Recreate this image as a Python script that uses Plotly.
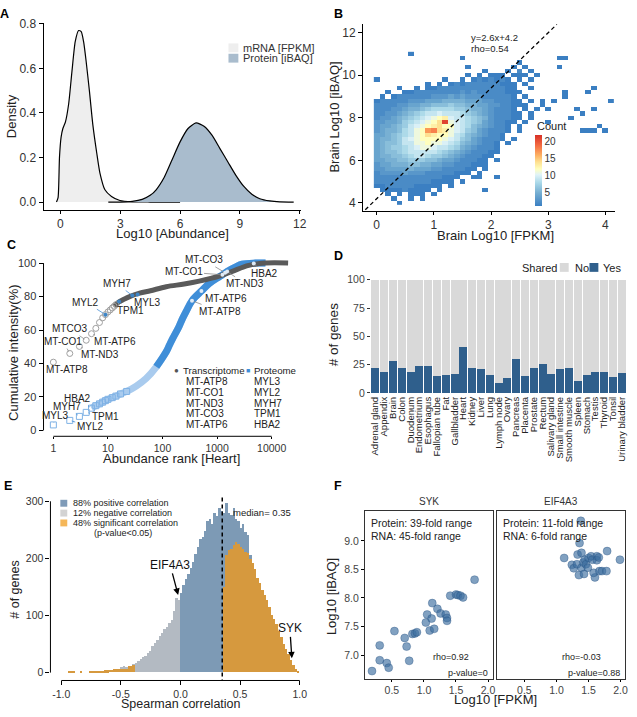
import math
import plotly.graph_objects as go

W, H = 637, 717
FONT = "Liberation Sans, Arial, Helvetica, sans-serif"

# ---------------- Panel A: density curves ----------------
a_mrna_x = [-0.2, -0.12, -0.05, 0.03, 0.12, 0.25, 0.41, 0.58, 0.74, 0.91, 1.04, 1.16, 1.29, 1.45, 1.62,
            1.82, 1.98, 2.23, 2.56, 2.98, 3.6, 4.5, 6.0]
a_mrna_y = [0.0, 0.02, 0.2, 0.29, 0.33, 0.36, 0.44, 0.59, 0.72, 0.77, 0.765, 0.72, 0.63, 0.50, 0.35,
            0.22, 0.13, 0.055, 0.025, 0.007, 0.001, 0.0, 0.0]
a_prot_x = [2.4, 3.0, 3.6, 4.1, 4.5, 4.8, 5.2, 5.6, 6.0, 6.4, 6.8, 7.2, 7.6, 8.0, 8.4, 8.8, 9.2, 9.6,
            10.0, 10.5, 11.0, 11.7]
a_prot_y = [0.0, 0.0, 0.003, 0.012, 0.03, 0.055, 0.11, 0.19, 0.27, 0.33, 0.355, 0.34, 0.30, 0.24, 0.18,
            0.12, 0.07, 0.035, 0.015, 0.005, 0.001, 0.0]
a_labels = ["mRNA [FPKM]", "Protein [iBAQ]"]

# ---------------- Panel B: 2D histogram counts (rows top y=11.0 -> bottom y=4.0, cols x=0.0..4.1) ----
b_code = ".123456789abcdefghijklm"
b_rows = [
    "......1..." ".........." ".........." ".........." "..",   # 11.0
    ".........." ".....1...." ".........." "..11......" "..",   # 10.8
    ".........." ".........." ".....1...." ".........." "..",   # 10.6
    ".........." "......1..." "....1.1..." "..1......." "..",   # 10.4
    ".........." ".........1" "...1.2.1.." ".........." "..",   # 10.2
    ".........." "......1.1." "111.111.1." ".........." "..",   # 10.0
    "1........." "..1..1.121" "2121.1.1.." ".........." "..",   # 9.8
    ".........1" ".1.1212222" "22111.1..." ".........." "..",   # 9.6
    "....1..1.1" "1222222222" "22211..1.." "........1." "..",   # 9.4
    "..1..11222" "2222232322" "222111...." "...1...1.." "..",   # 9.2
    ".1.1222222" "3334343332" "22221.1..." "...1......" "..",   # 9.0
    "1222223334" "4455554443" "322211.1.1" ".1........" ".1",   # 8.8
    "2222334455" "6667665544" "3322111..1" ".........." "..",   # 8.6
    "2223345567" "8888776554" "32221.1.1." "1....1..1." "..",   # 8.4
    "2233456789" "9a99987654" "322211.1.." "......1..." "..",   # 8.2
    "233456789a" "bcda998765" "322211.1.." "....1....." "..",   # 8.0
    "33445789ab" "celba98764" "32211.1..." "1........." "..",   # 7.8
    "3445679abc" "decca98654" "3221.1...." ".........1" "..",   # 7.6
    "3455689bch" "iedba97643" "2221.1...." "......111." "1.",   # 7.4
    "4456789bce" "dccb986543" "221......." ".........." "..",   # 7.2
    "455679abcc" "ccba976432" "221.1....." ".........." "..",   # 7.0
    "4566799bbc" "bba9865432" "21.1......" ".........." "..",   # 6.8
    "4567789abb" "a998754322" "21........" ".........." "..",   # 6.6
    "4566789999" "9876543222" "11........" ".........." "..",   # 6.4
    "4556678998" "7765432221" "1........." ".........." "..",   # 6.2
    "4455667776" "6544322211" ".1........" ".........." "..",   # 6.0
    "3445556655" "4433222111" ".........." ".........." "..",   # 5.8
    "3344445444" "33222211.1" ".........." ".........." "..",   # 5.6
    "2333343332" "2222111.1." ".........." ".........." "..",   # 5.4
    "2222222222" "22111..11." ".1........" ".........." "..",   # 5.2
    "2222222222" "1111.1...." ".........." ".........." "..",   # 5.0
    "1122222111" "11.1......" ".........." ".........." "..",   # 4.8
    ".111121111" ".1.......1" ".........." ".........." "..",   # 4.6
    "..1.1.111." "1........." ".........." ".........." "..",   # 4.4
    "...1..1.1." ".........." ".........." ".........." "..",   # 4.2
    "....1....." ".........." ".........." ".........." "..",   # 4.0
]
b_row_y = [11.0, 10.8, 10.6, 10.4, 10.2, 10.0, 9.8, 9.6, 9.4, 9.2, 9.0, 8.8, 8.6, 8.4, 8.2, 8.0, 7.8, 7.6,
           7.4, 7.2, 7.0, 6.8, 6.6, 6.4, 6.2, 6.0, 5.8, 5.6, 5.4, 5.2, 5.0, 4.8, 4.6, 4.4, 4.2, 4.0]
b_col_x = [round(0.1 * j, 1) for j in range(42)]
b_fit_slope, b_fit_intercept = 2.6, 4.2
b_fit_x = [-0.2, 3.15]

# ---------------- Panel C: cumulative intensity vs rank ----------------
c_tx_rank = [1, 2, 3, 4, 5, 6, 7, 8, 9, 10, 11, 12, 13, 14, 15, 20, 25, 38, 60, 117, 250, 470, 1090, 1900,
             3800, 7700, 20000]
c_tx_pct = [40.8, 46.0, 50.2, 53.9, 57.8, 61.0, 64.5, 67.3, 69.2, 70.8, 72.0, 73.2, 74.2, 75.2, 76.2, 78.5,
            80.0, 82.0, 83.5, 85.9, 87.5, 89.2, 92.2, 95.1, 98.6, 100, 100]
c_pr_rank = [1, 2, 3, 4, 5, 6, 7, 8, 9, 10, 12, 14, 17, 22, 33, 50, 77, 117, 134, 154, 200, 234, 270, 347,
             516, 716, 1000, 1250, 1530, 2200, 2880, 5000, 7700]
c_pr_pct = [3.3, 6.0, 8.4, 10.8, 13.3, 14.8, 15.9, 16.9, 17.8, 18.6, 19.6, 20.5, 21.8, 23.3, 26.5, 31.0,
            38.0, 47.0, 51.0, 55.0, 62.0, 67.0, 71.0, 77.5, 83.3, 87.8, 91.0, 93.0, 95.0, 97.7, 99.3, 100, 100]
# (gene, rank, pct, label x px, label y px, leader colour)
c_labels = [
    ("MT-ATP8", 1, 40.8, 67, 369, "#8c8c8c"),
    ("MT-CO1", 2, 46.0, 63, 341, "#8c8c8c"),
    ("MT-ND3", 3, 50.2, 100, 354, "#8c8c8c"),
    ("MTCO3", 4, 53.9, 69, 328, "#8c8c8c"),
    ("MT-ATP6", 5, 57.8, 115, 341, "#8c8c8c"),
    ("MYL2", 9, 69.2, 86, 301, "#4a90d6"),
    ("TPM1", 16, 77.0, 131, 309, "#4a90d6"),
    ("MYL3", 35, 81.3, 148, 301, "#4a90d6"),
    ("MYH7", 28, 80.6, 117, 282, "#4a90d6"),
    ("MYL3", 1, 3.3, 55, 416, "#4a90d6"),
    ("MYL2", 2, 6.0, 90, 427, "#4a90d6"),
    ("MYH7", 3, 8.4, 67, 407, "#4a90d6"),
    ("TPM1", 4, 10.8, 105, 417, "#4a90d6"),
    ("HBA2", 5, 13.3, 78, 399, "#4a90d6"),
    ("MT-ATP8", 347, 77.5, 221, 310, "#8c8c8c"),
    ("MT-ATP6", 516, 83.3, 227, 297, "#8c8c8c"),
    ("MT-CO1", 1250, 93.0, 185, 270, "#8c8c8c"),
    ("MT-ND3", 1530, 95.0, 247, 282, "#8c8c8c"),
    ("MT-CO3", 1400, 94.3, 205, 258, "#8c8c8c"),
    ("HBA2", 4700, 99.8, 266, 272, "#8c8c8c"),
]
c_tx_top = ["MT-ATP8", "MT-CO1", "MT-ND3", "MT-CO3", "MT-ATP6"]
c_pr_top = ["MYL3", "MYL2", "MYH7", "TPM1", "HBA2"]

# ---------------- Panel D: shared genes per tissue ----------------
d_tissues = ["Adrenal gland", "Appendix", "Brain", "Colon", "Duodenum", "Endometrium", "Esophagus",
             "Fallopian tube", "Fat", "Gallbladder", "Heart", "Kidney", "Liver", "Lung", "Lymph node",
             "Ovary", "Pancreas", "Placenta", "Prostate", "Rectum", "Salivary gland", "Small intestine",
             "Smooth muscle", "Spleen", "Stomach", "Testis", "Thyroid", "Tonsil", "Urinary bladder"]
d_yes = [22, 19, 28, 22, 19, 24, 24, 15, 16, 17, 41, 22, 21, 16, 9, 13, 30, 15, 22, 26, 17, 21, 22, 11,
         16, 19, 19, 14, 18]
d_total = [100] * len(d_tissues)

# ---------------- Panel E: histogram of Spearman correlations ----------------
e_bin_width = 0.02
e_centers = [round(-0.99 + 0.02 * i, 2) for i in range(100)]
e_total = [0, 0, 0, 1, 2, 1, 0, 0, 1, 0,
           0, 0, 1, 1, 2, 1, 2, 2, 3, 3,
           4, 4, 5, 5, 6, 9, 10, 9, 11, 11,
           14, 17, 20, 23, 26, 29, 34, 37, 46, 52,
           57, 63, 69, 75, 80, 86, 92, 108, 130, 126,
           138, 153, 164, 172, 182, 193, 207, 219, 233, 236,
           248, 265, 268, 259, 279, 273, 288, 282, 279, 297,
           279, 276, 288, 268, 265, 253, 259, 245, 241, 205,
           192, 180, 165, 156, 144, 136, 126, 114, 101, 93,
           84, 72, 61, 49, 41, 32, 22, 12, 5, 2]
e_sig = [0, 0, 0, 1, 2, 1, 0, 0, 1, 0,
         0, 0, 1, 1, 2, 1, 2, 2, 3, 3,
         4, 4, 5, 5, 6, 6, 5, 5, 10, 11,
         13, 0, 0, 0, 0, 0, 0, 0, 0, 0,
         0, 0, 0, 0, 0, 0, 0, 0, 0, 0,
         0, 0, 0, 0, 0, 0, 0, 0, 0, 0,
         0, 0, 0, 0, 0, 0, 0, 0, 150, 205,
         214, 216, 222, 228, 225, 219, 216, 210, 208, 199,
         192, 180, 165, 156, 144, 136, 126, 114, 101, 93,
         84, 72, 61, 49, 41, 32, 22, 12, 5, 2]
e_median = 0.35
e_legend = ["88% positive correlation", "12% negative correlation", "48% significant correlation"]

# ---------------- Panel F: SYK / EIF4A3 scatter ----------------
f_syk_x = [0.19, 0.31, 0.31, 0.42, 0.45, 0.54, 0.70, 0.73, 0.77, 0.82, 0.86, 0.89, 1.03, 1.05, 1.12, 1.09,
           1.16, 1.13, 1.21, 1.26, 1.34, 1.36, 1.36, 1.41, 1.50, 1.53, 1.57, 1.61, 1.79]
f_syk_y = [6.72, 7.17, 6.91, 6.86, 6.78, 7.42, 7.30, 7.15, 6.90, 7.37, 7.38, 7.40, 7.57, 7.71, 7.64, 7.43,
           7.46, 7.91, 7.81, 7.73, 7.71, 7.65, 7.60, 8.04, 8.06, 8.05, 8.04, 8.01, 8.32]
f_eif_x = [1.38, 1.12, 1.24, 1.27, 1.32, 1.36, 1.33, 1.39, 1.35, 1.39, 1.42, 1.44, 1.43, 1.46, 1.50, 1.54,
           1.56, 1.60, 1.58, 1.63, 1.63, 1.66, 1.67, 1.71, 1.79, 1.78, 1.99, 1.49]
f_eif_y = [9.35, 8.70, 8.58, 8.52, 8.59, 8.96, 8.76, 8.79, 8.40, 8.53, 8.62, 8.67, 8.42, 8.59, 8.70, 8.73,
           8.67, 8.36, 8.44, 8.73, 8.66, 8.71, 8.47, 8.47, 8.82, 8.47, 8.67, 8.53]
f_titles = ["SYK", "EIF4A3"]
f_info = [("Protein: 39-fold range", "RNA: 45-fold range", "rho=0.92", "p-value=0"),
          ("Protein: 11-fold range", "RNA: 6-fold range", "rho=-0.03", "p-value=0.88")]

# ======================= helpers =======================
def xd(a, b):
    return [a / W, b / W]


def yd(top, bottom):
    return [1 - bottom / H, 1 - top / H]


def px(x):
    return x / W


def py(y):
    return 1 - y / H


annotations = []
shapes = []


def text(t, x, y, size=11, xanchor="center", yanchor="middle", color="#222", angle=0, bold=False):
    if bold:
        t = "<b>" + t + "</b>"
    annotations.append(dict(text=t, x=px(x), y=py(y), xref="paper", yref="paper", showarrow=False,
                            xanchor=xanchor, yanchor=yanchor, textangle=angle,
                            font=dict(size=size, color=color, family=FONT)))


def rect(x0, y0, x1, y1, color):
    shapes.append(dict(type="rect", xref="paper", yref="paper", x0=px(x0), x1=px(x1), y0=py(y1),
                       y1=py(y0), fillcolor=color, line=dict(width=0)))


def axis(**kw):
    d = dict(showgrid=False, zeroline=False, showline=True, linecolor="black", linewidth=1,
             ticks="outside", ticklen=4, tickwidth=1, tickcolor="black",
             tickfont=dict(size=12, color="#333", family=FONT))
    d.update(kw)
    return d


fig = go.Figure()

# ---------------- A ----------------
A_MRNA, A_PROT = "#eeeeee", "#a9bccd"
fig.add_trace(go.Scatter(x=a_mrna_x, y=a_mrna_y, mode="lines", fill="tozeroy", fillcolor=A_MRNA,
                         line=dict(color="black", width=1.2, shape="spline", smoothing=0.6),
                         xaxis="x", yaxis="y"))
fig.add_trace(go.Scatter(x=a_prot_x, y=a_prot_y, mode="lines", fill="tozeroy", fillcolor=A_PROT,
                         line=dict(color="black", width=1.2, shape="spline", smoothing=0.6),
                         xaxis="x", yaxis="y"))
rect(230, 38, 240, 47, A_MRNA)
rect(230, 48.5, 240, 57.5, A_PROT)
text(a_labels[0], 243, 43, size=11, xanchor="left", color="#333")
text(a_labels[1], 243, 53, size=11, xanchor="left", color="#333")

# ---------------- B ----------------
b_z = []
for row in reversed(b_rows):
    b_z.append([None if ch == "." else b_code.index(ch) for ch in row])
b_y = list(reversed(b_row_y))
b_scale = [[0.0, "#3b7fc2"], [0.18, "#74add1"], [0.33, "#abd9e9"], [0.44, "#e0f3f8"],
           [0.52, "#ffffbf"], [0.62, "#fee090"], [0.72, "#fdae61"], [0.85, "#f46d43"], [1.0, "#d73027"]]
fig.add_trace(go.Heatmap(x=b_col_x, y=b_y, z=b_z, zmin=1, zmax=22, colorscale=b_scale,
                         xaxis="x2", yaxis="y2", hoverongaps=False,
                         colorbar=dict(x=px(540), xanchor="left", y=py(203), yanchor="bottom",
                                       len=72 / H, thickness=7, outlinewidth=0, ticks="",
                                       tickvals=[5, 10, 15, 20], xpad=0, ypad=0,
                                       tickfont=dict(size=10, color="#333", family=FONT))))
fig.add_trace(go.Scatter(x=b_fit_x, y=[b_fit_slope * v + b_fit_intercept for v in b_fit_x], mode="lines",
                         line=dict(color="black", width=1.3, dash="4px,3px"), xaxis="x2", yaxis="y2"))
text("Count", 540, 122, size=11, xanchor="left", color="#222")
text("y=%.1fx+%.1f" % (b_fit_slope, b_fit_intercept), 473, 31.5, size=9.5, xanchor="left", color="#222")
text("rho=0.54", 473, 43.5, size=9.5, xanchor="left", color="#222")

# ---------------- C ----------------
C_X0, C_X1, C_LMIN, C_LMAX = 43, 293, -0.18, 4.35
C_YT, C_YB, C_PMIN, C_PMAX = 256, 437, -3.5, 103


def c_px(rank, pct):
    xx = C_X0 + (math.log10(rank) - C_LMIN) / (C_LMAX - C_LMIN) * (C_X1 - C_X0)
    yy = C_YB - (pct - C_PMIN) / (C_PMAX - C_PMIN) * (C_YB - C_YT)
    return xx, yy


tx_pts = [(r, p) for r, p in zip(c_tx_rank, c_tx_pct) if r <= 14]
tx_line = [(r, p) for r, p in zip(c_tx_rank, c_tx_pct) if r >= 13]
pr_pts = [(r, p) for r, p in zip(c_pr_rank, c_pr_pct) if r <= 22]
pr_light = [(r, p) for r, p in zip(c_pr_rank, c_pr_pct) if r >= 5]
pr_dark = [(r, p) for r, p in zip(c_pr_rank, c_pr_pct) if r >= 77]
fig.add_trace(go.Scatter(x=[r for r, p in pr_light], y=[p for r, p in pr_light], mode="lines",
                         line=dict(color="#a9cbee", width=7, shape="spline"), xaxis="x3", yaxis="y3"))
fig.add_trace(go.Scatter(x=[r for r, p in pr_dark], y=[p for r, p in pr_dark], mode="lines",
                         line=dict(color="#3f8ed8", width=7, shape="spline"), xaxis="x3", yaxis="y3"))
fig.add_trace(go.Scatter(x=[r for r, p in pr_pts], y=[p for r, p in pr_pts], mode="markers",
                         marker=dict(symbol="square-open", size=6, color="#7fb2e5", line=dict(width=1)),
                         xaxis="x3", yaxis="y3"))
fig.add_trace(go.Scatter(x=[r for r, p in tx_line], y=[p for r, p in tx_line], mode="lines",
                         line=dict(color="#5a5a5a", width=5, shape="spline"), xaxis="x3", yaxis="y3"))
fig.add_trace(go.Scatter(x=[r for r, p in tx_pts], y=[p for r, p in tx_pts], mode="markers",
                         marker=dict(symbol="circle-open", size=6, color="#a0a0a0", line=dict(width=1)),
                         xaxis="x3", yaxis="y3"))
hl = [(g, r, p, c) for g, r, p, tx, ty, c in c_labels if r > 5]
fig.add_trace(go.Scatter(x=[r for g, r, p, c in hl], y=[p for g, r, p, c in hl], mode="markers",
                         marker=dict(size=4, color=["#3d85c6" if c == "#4a90d6" else "#dfeaf5"
                                                    for g, r, p, c in hl]),
                         xaxis="x3", yaxis="y3"))
for g, r, p, tx, ty, col in c_labels:
    hx, hy = c_px(r, p)
    annotations.append(dict(text=g, x=math.log10(r), y=p, xref="x3", yref="y3", showarrow=True,
                            arrowhead=0, arrowwidth=0.8, arrowcolor=col, ax=tx - hx, ay=ty - hy,
                            standoff=2, font=dict(size=10, color="#222", family=FONT)))
# C axis lines (drawn from tick to tick)
shapes.append(dict(type="line", xref="paper", yref="y3", x0=px(C_X0), x1=px(C_X0), y0=0, y1=100,
                   line=dict(color="black", width=1)))
shapes.append(dict(type="line", xref="x3", yref="paper", x0=1, x1=10000, y0=py(C_YB), y1=py(C_YB),
                   line=dict(color="black", width=1)))
# C legend
text("\u25CF", 177, 370, size=8, color="#555")
text("Transcriptome", 182.5, 370, size=9.7, xanchor="left")
text("\u25A0", 249.5, 370, size=7, color="#3f8ed8")
text("Proteome", 254, 370, size=9.7, xanchor="left")
for i, (g1, g2) in enumerate(zip(c_tx_top, c_pr_top)):
    yy = 381.5 + i * 10.9
    text(g1, 185, yy, size=10, xanchor="left")
    text(g2, 254, yy, size=10, xanchor="left")

# ---------------- D ----------------
D_NO, D_YES = "#d9d9d9", "#2f5f8c"
fig.add_trace(go.Bar(x=d_tissues, y=d_total, marker=dict(color=D_NO, line=dict(width=0)), width=0.9,
                     xaxis="x4", yaxis="y4"))
fig.add_trace(go.Bar(x=d_tissues, y=d_yes, marker=dict(color=D_YES, line=dict(width=0)), width=0.9,
                     xaxis="x4", yaxis="y4"))
text("Shared", 544.5, 266, size=11, color="#222")
rect(565, 261, 574, 270, D_NO)
text("No", 578, 266, size=11, xanchor="left", color="#222")
rect(595, 261, 604, 270, D_YES)
text("Yes", 607, 266, size=11, xanchor="left", color="#222")

# ---------------- E ----------------
E_BLUE, E_GREY, E_ORANGE = "#7d9ab5", "#b3bac2", "#d6993e"
neg = [(c, t) for c, t in zip(e_centers, e_total) if c < 0]
pos = [(c, t) for c, t in zip(e_centers, e_total) if c > 0]
fig.add_trace(go.Bar(x=[c for c, t in neg], y=[t for c, t in neg], width=e_bin_width,
                     marker=dict(color=E_GREY, line=dict(width=0)), xaxis="x5", yaxis="y5"))
fig.add_trace(go.Bar(x=[c for c, t in pos], y=[t for c, t in pos], width=e_bin_width,
                     marker=dict(color=E_BLUE, line=dict(width=0)), xaxis="x5", yaxis="y5"))
fig.add_trace(go.Bar(x=e_centers, y=e_sig, width=e_bin_width,
                     marker=dict(color=E_ORANGE, line=dict(width=0)), xaxis="x5", yaxis="y5"))
shapes.append(dict(type="line", xref="x5", yref="y5", x0=e_median, x1=e_median, y0=-19, y1=311,
                   line=dict(color="black", width=1.5, dash="4px,3px")))
shapes.append(dict(type="line", xref="paper", yref="y5", x0=px(50), x1=px(50), y0=0, y1=300,
                   line=dict(color="black", width=1)))
shapes.append(dict(type="line", xref="x5", yref="paper", x0=-1, x1=1, y0=py(685), y1=py(685),
                   line=dict(color="black", width=1)))
text("median= %.2f" % e_median, 233, 514, size=9.5, xanchor="left", color="#222")
rect(60, 501.5, 67, 508.5, "#7f9bb8")
rect(60, 511.5, 67, 518.5, "#d3d3d3")
rect(60, 521.5, 67, 528.5, "#f5b759")
text(e_legend[0], 71, 505, size=9, xanchor="left", color="#222")
text(e_legend[1], 71, 515, size=9, xanchor="left", color="#222")
text(e_legend[2], 71, 525, size=9, xanchor="left", color="#222")
text("(p-value<0.05)", 92, 535, size=9, xanchor="left", color="#222")
annotations.append(dict(text="EIF4A3", x=-0.02, y=136, xref="x5", yref="y5", showarrow=True, arrowhead=2,
                        arrowsize=1, arrowwidth=1.3, arrowcolor="black", ax=-8, ay=-30,
                        font=dict(size=12, color="#111", family=FONT)))
annotations.append(dict(text="SYK", x=0.934, y=25, xref="x5", yref="y5", showarrow=True, arrowhead=2,
                        arrowsize=1, arrowwidth=1.3, arrowcolor="black", ax=-2, ay=-30,
                        font=dict(size=12, color="#111", family=FONT)))

# ---------------- F ----------------
F_COL = "rgba(62,110,160,0.65)"
fig.add_trace(go.Scatter(x=f_syk_x, y=f_syk_y, mode="markers",
                         marker=dict(size=8, color=F_COL, line=dict(width=0.6, color="rgba(40,80,130,0.6)")),
                         xaxis="x6", yaxis="y6"))
fig.add_trace(go.Scatter(x=f_eif_x, y=f_eif_y, mode="markers",
                         marker=dict(size=8, color=F_COL, line=dict(width=0.6, color="rgba(40,80,130,0.6)")),
                         xaxis="x7", yaxis="y7"))
for k, (xl, xr) in enumerate([(368, 497), (502, 631)]):
    text(f_titles[k], (xl + xr) / 2, 503, size=10, color="#333")
    p1, p2, p3, p4 = f_info[k]
    text(p1, xl + 4, 525, size=10.5, xanchor="left", color="#222")
    text(p2, xl + 4, 538.5, size=10.5, xanchor="left", color="#222")
    text(p3, xr - 22, 661, size=9, xanchor="right", color="#222")
    text(p4, xr - 3, 677, size=9, xanchor="right", color="#222")

# ---------------- panel letters & axis titles ----------------
for letter, x, y in [("A", 4, 8), ("B", 341, 8), ("C", 11, 243), ("D", 341, 254), ("E", 7, 487),
                     ("F", 341, 487)]:
    text(letter, x, y, size=12.5, bold=True, color="black")
text("Log10 [Abundance]", 173, 231, size=13, color="#222")
text("Density", 10, 112, size=13, angle=-90, color="#222")
text("Brain Log10 [FPKM]", 500, 233, size=13, color="#222")
text("Brain Log10 [iBAQ]", 337, 113, size=13, angle=-90, color="#222")
text("Abundance rank [Heart]", 172, 460, size=13, color="#222")
text("Cumulative intensity(%)", 12.5, 352, size=13, angle=-90, color="#222")
text("# of genes", 337, 334, size=13.5, angle=-90, color="#222")
text("Spearman correlation", 182, 709, size=12.5, color="#222")
text("# of genes", 14, 593, size=12.5, angle=-90, color="#222")
text("Log10 [FPKM]", 500, 704, size=13, color="#222")
text("Log10 [iBAQ]", 334, 600, size=13, angle=-90, color="#222")

fig.update_layout(
    width=W, height=H, autosize=False, margin=dict(l=0, r=0, t=0, b=0),
    paper_bgcolor="white", plot_bgcolor="white", showlegend=False, barmode="overlay", bargap=0,
    font=dict(family=FONT, color="#222"),
    xaxis=axis(domain=xd(43, 303), range=[-0.85, 12.05], tickvals=[0, 3, 6, 9, 12], ticklen=3, anchor="y"),
    yaxis=axis(domain=yd(17, 207), range=[-0.035, 0.805], tickvals=[0, 0.2, 0.4, 0.6, 0.8],
               tickformat=".1f", anchor="x"),
    xaxis2=axis(domain=xd(366, 621), range=[-0.24, 4.17], tickvals=[0, 1, 2, 3, 4], ticklen=3, anchor="y2"),
    yaxis2=axis(domain=yd(18, 208), range=[3.63, 12.42], tickvals=[4, 6, 8, 10, 12], anchor="x2"),
    xaxis3=axis(domain=xd(C_X0, C_X1), type="log", range=[C_LMIN, C_LMAX], showline=False, ticklen=2,
                tickvals=[1, 10, 100, 1000, 10000], ticktext=["1", "10", "100", "1000", "10000"],
                tickfont=dict(size=10.5, color="#333", family=FONT), anchor="y3"),
    yaxis3=axis(domain=yd(C_YT, C_YB), range=[C_PMIN, C_PMAX], showline=False,
                tickvals=[0, 20, 40, 60, 80, 100], tickfont=dict(size=11, color="#333", family=FONT),
                anchor="x3"),
    xaxis4=axis(domain=xd(374, 632), range=[-0.5, 28.5], type="category", showline=False, ticks="",
                tickmode="array", tickvals=d_tissues, ticktext=d_tissues,
                tickangle=-90, tickfont=dict(size=9.5, color="#222", family=FONT), anchor="y4"),
    yaxis4=axis(domain=yd(276, 394), range=[-0.9, 101.7], showline=False, tickvals=[0, 25, 50, 75, 100],
                ticklen=3, tickcolor="#333", tickfont=dict(size=10.5, color="#444", family=FONT),
                anchor="x4"),
    xaxis5=axis(domain=xd(50, 310), range=[-1.091, 1.066], showline=False, tickvals=[-1, -0.5, 0, 0.5, 1],
                ticktext=["-1.0", "-0.5", "0.0", "0.5", "1.0"],
                tickfont=dict(size=10.5, color="#333", family=FONT), anchor="y5"),
    yaxis5=axis(domain=yd(495, 685), range=[-13.8, 313.8], showline=False, tickvals=[0, 100, 200, 300],
                tickfont=dict(size=10.5, color="#333", family=FONT), anchor="x5"),
    xaxis6=axis(domain=xd(368, 497), range=[0.08, 2.07], tickvals=[0.5, 1.0, 1.5, 2.0], tickformat=".1f",
                mirror=True, linecolor="#333", ticklen=2, tickfont=dict(size=10.5, color="#444", family=FONT),
                anchor="y6"),
    yaxis6=axis(domain=yd(513, 683), range=[6.59, 9.52], tickvals=[7.0, 7.5, 8.0, 8.5, 9.0], tickformat=".1f",
                mirror=True, linecolor="#333", ticklen=3, tickfont=dict(size=10.5, color="#444", family=FONT),
                anchor="x6"),
    xaxis7=axis(domain=xd(502, 631), range=[0.08, 2.07], tickvals=[0.5, 1.0, 1.5, 2.0], tickformat=".1f",
                mirror=True, linecolor="#333", ticklen=2, tickfont=dict(size=10.5, color="#444", family=FONT),
                anchor="y7"),
    yaxis7=axis(domain=yd(513, 683), range=[6.59, 9.52], showticklabels=False, ticks="",
                mirror=True, linecolor="#333", anchor="x7"),
    annotations=annotations,
    shapes=shapes,
)

fig.write_html("out.html", include_plotlyjs=True, config={"displayModeBar": False},
               post_script="document.body.style.margin='0';document.body.style.overflow='hidden';")
